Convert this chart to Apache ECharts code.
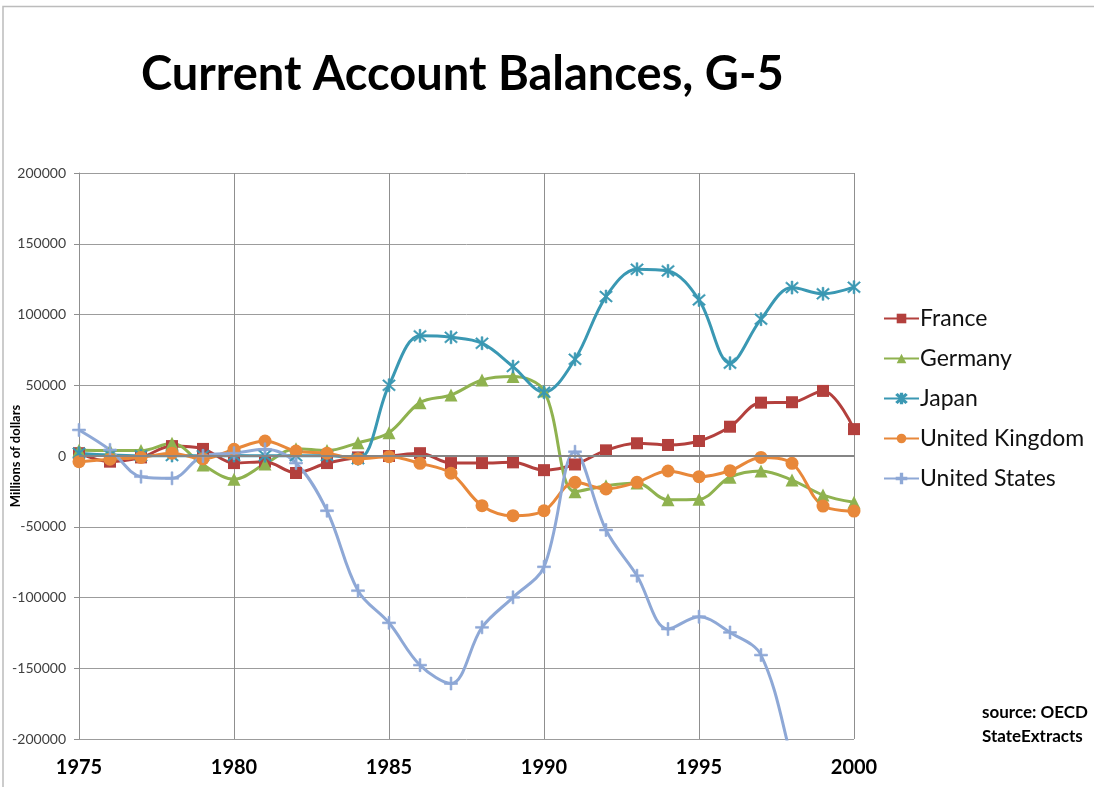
<!DOCTYPE html>
<html>
<head>
<meta charset="utf-8">
<title>Current Account Balances, G-5</title>
<script src="https://cdn.jsdelivr.net/npm/echarts@6/dist/echarts.min.js"></script>
<style>
  html, body { margin: 0; padding: 0; background: #fff; }
  #chart { width: 1094px; height: 787px; }
</style>
</head>
<body>
<div id="chart"></div>
<script>
// data (millions of dollars)
const years = [1975, 1976, 1977, 1978, 1979, 1980, 1981, 1982, 1983, 1984, 1985, 1986, 1987,
  1988, 1989, 1990, 1991, 1992, 1993, 1994, 1995, 1996, 1997, 1998, 1999, 2000];
const france = [2000, -4000, -1000, 7000, 5000, -5000, -4000, -12000, -5000, -1000, 0, 2000, -5000,
  -5000, -4500, -10000, -6000, 4000, 9000, 7800, 10600, 20700, 37700, 38000, 46000, 19000];
const germany = [4000, 3800, 3800, 9000, -6300, -16500, -5600, 5200, 3800, 9300, 16500, 37700, 43100,
  53700, 56100, 46000, -25200, -21000, -19000, -31000, -30600, -15000, -10600, -17000, -27600, -32700];
const japan = [2000, 700, 200, 300, 200, 300, 200, 200, 300, -2000, 50000, 84900, 83900,
  79700, 63200, 45000, 68400, 112700, 132000, 130800, 110300, 65600, 96700, 119000, 114600, 119300];
const uk = [-4000, -2300, -1000, 2000, -2000, 4700, 10600, 3500, 2000, -2000, -500, -5200, -12200,
  -35100, -42200, -38700, -18600, -23300, -18600, -10600, -14600, -10400, -1000, -5200, -35400, -38900];
const us = [18400, 4300, -14600, -15800, 0, 2000, 4700, -5000, -38700, -95200, -117900, -147800, -160800,
  -121100, -99900, -78300, 3000, -52300, -84600, -122300, -113600, -124700, -140700, -215000, -300000, -417000];

const FONT = 'Lato, "Liberation Sans", "DejaVu Sans", sans-serif';

const chart = echarts.init(document.getElementById('chart'));

// 별표/플러스 마커
const starPath = 'path://M4.4,0 L5.6,0 L5.6,10 L4.4,10 Z M0.6,1.4 L1.4,0.6 L9.4,8.6 L8.6,9.4 Z M8.6,0.6 L9.4,1.4 L1.4,9.4 L0.6,8.6 Z';
const plusPath = 'path://M4.3,0 L5.7,0 L5.7,4.3 L10,4.3 L10,5.7 L5.7,5.7 L5.7,10 L4.3,10 L4.3,5.7 L0,5.7 L0,4.3 L4.3,4.3 Z';

function pairs(vals) {
  return years.map((y, i) => [y, vals[i]]);
}

function makeSeries(name, vals, color, symbol, size) {
  return {
    name: name,
    type: 'line',
    data: pairs(vals),
    smooth: 0.35,
    clip: true,
    symbol: symbol,
    symbolSize: size,
    showAllSymbol: true,
    lineStyle: { width: 3, color: color },
    itemStyle: { color: color, borderColor: color, borderWidth: symbol.indexOf('path') === 0 ? 0.6 : 0 },
    emphasis: { disabled: true }
  };
}

const series = [
  makeSeries('France', france, '#B3403D', 'rect', 12),
  makeSeries('Germany', germany, '#8FB24F', 'triangle', 13),
  makeSeries('Japan', japan, '#3A98B3', starPath, 13),
  makeSeries('United Kingdom', uk, '#E8883A', 'circle', 13),
  makeSeries('United States', us, '#8EA8D6', plusPath, 13)
];

// 0 기준선
series[0].markLine = {
  silent: true,
  symbol: 'none',
  label: { show: false },
  lineStyle: { color: '#858585', width: 2, type: 'solid' },
  data: [{ yAxis: 0 }]
};

const option = {
  backgroundColor: '#fff',
  animation: false,
  textStyle: { fontFamily: FONT },
  title: {
    text: 'Current Account Balances, G-5',
    left: 136,
    top: 46,
    textStyle: { fontFamily: FONT, fontSize: 47, fontWeight: 'bold', color: '#000' }
  },
  legend: {
    orient: 'vertical',
    left: 883,
    top: 307,
    padding: 0,
    itemWidth: 35,
    itemHeight: 12,
    itemGap: 17,
    data: ['France', 'Germany', 'Japan', 'United Kingdom', 'United States'],
    textStyle: { fontFamily: FONT, fontSize: 23, color: '#111', padding: [0, 0, 0, -4] }
  },
  grid: { left: 79, right: 240, top: 173, bottom: 48, containLabel: false, outerBoundsMode: 'none' },
  xAxis: {
    type: 'value',
    min: 1975,
    max: 2000,
    interval: 5,
    axisLine: { show: false },
    axisTick: { show: false },
    axisLabel: {
      margin: 19,
      fontFamily: FONT,
      fontSize: 20,
      fontWeight: 'bold',
      color: '#000',
      formatter: v => String(v)
    },
    splitLine: { show: true, lineStyle: { color: '#8f8f8f', width: 1 } }
  },
  yAxis: {
    type: 'value',
    min: -200000,
    max: 200000,
    interval: 50000,
    name: 'Millions of dollars',
    nameLocation: 'middle',
    nameGap: 57,
    nameMoveOverlap: false,
    nameTextStyle: { fontFamily: FONT, fontSize: 13, fontWeight: 'bold', color: '#000' },
    axisLine: { show: true, lineStyle: { color: '#8f8f8f', width: 1 } },
    axisTick: { show: true, inside: false, length: 5, lineStyle: { color: '#8f8f8f' } },
    axisLabel: { margin: 13, fontFamily: FONT, fontSize: 14, color: '#404040', formatter: v => String(v) },
    splitLine: { show: true, lineStyle: { color: '#9c9c9c', width: 1 } }
  },
  series: series,
  graphic: [
    {
      type: 'polyline',
      shape: { points: [[3, 787], [3, 6.5], [1094, 6.5]] },
      style: { stroke: '#bcbcbc', lineWidth: 1.5, fill: null },
      silent: true
    },
    {
      type: 'text',
      right: 6,
      top: 701,
      style: {
        text: 'source: OECD\nStateExtracts',
        font: 'bold 17px ' + FONT,
        fill: '#000',
        align: 'left',
        lineHeight: 24
      }
    }
  ]
};

chart.setOption(option);

window.addEventListener('resize', function () {
  chart.resize();
});
</script>
</body>
</html>
